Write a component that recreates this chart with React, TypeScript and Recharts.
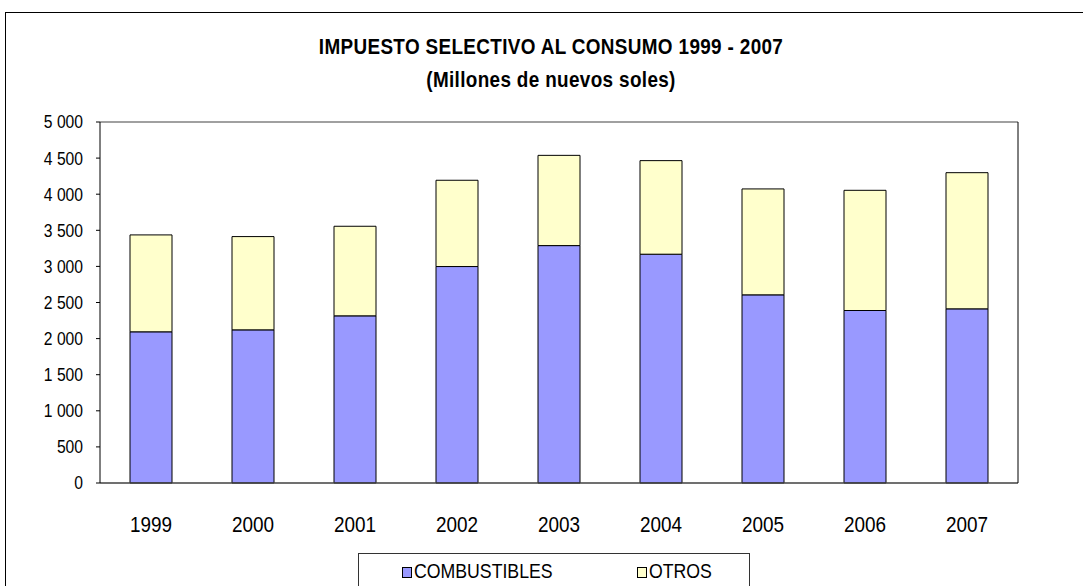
import React from "react";
import { ComposedChart, Bar, XAxis, YAxis, ReferenceLine } from "recharts";

const years = ["1999", "2000", "2001", "2002", "2003", "2004", "2005", "2006", "2007"];
const combustibles = [2094, 2121, 2315, 2998, 3288, 3169, 2606, 2389, 2412];
const otros = [1342, 1292, 1241, 1195, 1250, 1296, 1467, 1665, 1886];
const yTicks = [0, 500, 1000, 1500, 2000, 2500, 3000, 3500, 4000, 4500, 5000];
const boundaryTicks = [0, 1, 2, 3, 4, 5, 6, 7, 8, 9];
const titleLines = ["IMPUESTO SELECTIVO AL CONSUMO 1999 - 2007", "(Millones de nuevos soles)"];

const series = [
  { key: "combustibles", name: "COMBUSTIBLES", color: "#9999FF" },
  { key: "otros", name: "OTROS", color: "#FFFFCC" },
];

const data = years.map((y, i) => ({ year: y, combustibles: combustibles[i], otros: otros[i] }));

const FONT = "'Liberation Sans', Arial, sans-serif";
const SX = 0.87;
const fmt = (v: number) => (v >= 1000 ? `${Math.floor(v / 1000)} ${String(v % 1000).padStart(3, "0")}` : String(v));

const LeftTick = (props: any) => {
  const { x, y, payload } = props;
  return (
    <g transform={`translate(${x},${y}) scale(${SX},1)`}>
      <text x={0} y={0} dy="0.36em" textAnchor="end" fontSize={18} fontFamily={FONT} fill="#000">
        {fmt(payload.value)}
      </text>
    </g>
  );
};

const RightTick = (props: any) => {
  const { x, y, payload } = props;
  return (
    <g transform={`translate(${x},${y}) scale(${SX},1)`}>
      <text x={0} y={0} dy="0.36em" textAnchor="start" fontSize={18} fontFamily={FONT} fill="#000">
        {fmt(payload.value)}
      </text>
    </g>
  );
};

const BottomTick = (props: any) => {
  const { x, y, payload } = props;
  return (
    <g transform={`translate(${x},${y}) scale(0.86,1)`}>
      <text x={0} y={17} textAnchor="middle" fontSize={22} fontFamily={FONT} fill="#000">
        {payload.value}
      </text>
    </g>
  );
};

export default function App() {
  return (
    <div style={{ position: "absolute", left: 0, top: 0, width: 1083, height: 586, background: "#fff", overflow: "hidden", fontFamily: FONT }}>
      <div style={{ position: "absolute", left: 5, top: 12, width: 1200, height: 700, border: "1px solid #000", boxSizing: "border-box" }} />
      <div style={{ position: "absolute", left: 0, top: 0 }}>
        <ComposedChart width={1083} height={586} data={data} margin={{ top: 122, right: 0, bottom: 0, left: 0 }} barSize={42}>
          <XAxis
            xAxisId="b"
            type="number"
            domain={[0, 9]}
            ticks={boundaryTicks}
            tickFormatter={() => ""}
            axisLine={false}
            tickSize={9}
            tickLine={{ stroke: "#333", strokeWidth: 1 }}
            height={0}
            allowDataOverflow
          />
          <XAxis
            dataKey="year"
            height={103}
            tickLine={false}
            tickSize={0}
            tickMargin={32}
            axisLine={{ stroke: "#404040", strokeWidth: 1.5 }}
            tick={<BottomTick />}
          />
          <YAxis
            yAxisId="left"
            width={100}
            domain={[0, 5000]}
            ticks={yTicks}
            tickSize={4}
            tickMargin={13}
            axisLine={{ stroke: "#000" }}
            tickLine={{ stroke: "#000" }}
            tick={<LeftTick />}
            interval={0}
          />
          <YAxis
            yAxisId="right"
            orientation="right"
            width={65}
            domain={[0, 5000]}
            ticks={yTicks}
            tickSize={5}
            tickMargin={9}
            axisLine={{ stroke: "#000" }}
            tickLine={{ stroke: "#000" }}
            tick={<RightTick />}
            interval={0}
          />
          <ReferenceLine yAxisId="left" y={5000} stroke="#808080" strokeWidth={1.5} />
          {series.map((s) => (
            <Bar
              key={s.key}
              yAxisId="left"
              dataKey={s.key}
              name={s.name}
              stackId="a"
              fill={s.color}
              stroke="#000"
              strokeWidth={1}
              isAnimationActive={false}
            />
          ))}
        </ComposedChart>
      </div>
      <svg width={1083} height={586} style={{ position: "absolute", left: 0, top: 0, pointerEvents: "none" }}>
        {titleLines.map((t, i) => (
          <g key={i} transform={`translate(551,${i === 0 ? 54 : 87}) scale(0.86,1)`}>
            <text x={0} y={0} textAnchor="middle" fontSize={22} fontWeight="bold" letterSpacing={0.4} fontFamily={FONT} fill="#000">
              {t}
            </text>
          </g>
        ))}
        <rect x={358.5} y={553.5} width={391} height={60} fill="#fff" stroke="#333" strokeWidth={1} />
        {series.map((s, i) => {
          const ix = i === 0 ? 402 : 637;
          return (
            <g key={s.key}>
              <rect x={ix + 0.5} y={567.5} width={9} height={10} fill={s.color} stroke="#000" strokeWidth={1} />
              <g transform={`translate(${ix + 12},578) scale(0.885,1)`}>
                <text x={0} y={0} fontSize={20} fontFamily={FONT} fill="#000">
                  {s.name}
                </text>
              </g>
            </g>
          );
        })}
      </svg>
    </div>
  );
}
